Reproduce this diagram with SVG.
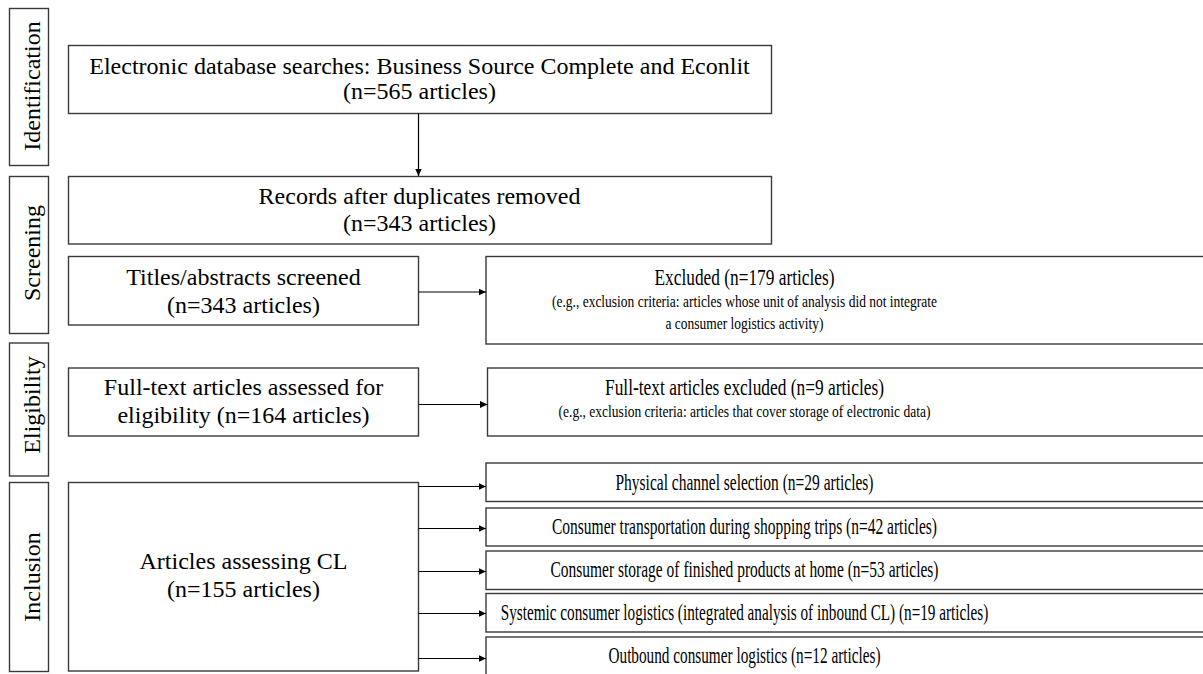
<svg xmlns="http://www.w3.org/2000/svg" width="1203" height="674" viewBox="0 0 1203 674">
  <style>
    .box { fill: #ffffff; stroke: #3a3a3a; stroke-width: 1.4; }
    .lbl { font-family: "Liberation Serif", "Times New Roman", serif; font-size: 24px; fill: #000; text-anchor: middle; }
    .mid { font-family: "Liberation Serif", "Times New Roman", serif; font-size: 23px; fill: #000; text-anchor: middle; }
    .sm { font-family: "Liberation Serif", "Times New Roman", serif; font-size: 17px; fill: #000; text-anchor: middle; }
    .conn { stroke: #000; stroke-width: 1.2; fill: none; marker-end: url(#arr); }
  </style>
  <defs>
    <marker id="arr" markerUnits="userSpaceOnUse" markerWidth="8" markerHeight="7" refX="7.5" refY="3.5" orient="auto">
      <path d="M0,0 L7.5,3.5 L0,7 z" fill="#000"/>
    </marker>
  </defs>
  <rect width="1203" height="674" fill="#ffffff"/>

  <!-- phase labels -->
  <g id="phase-identification">
    <rect class="box" x="9.5" y="8.5" width="39" height="157"/>
    <text class="lbl" transform="translate(40,86) rotate(-90)">Identification</text>
  </g>
  <g id="phase-screening">
    <rect class="box" x="9.5" y="176.5" width="39" height="157"/>
    <text class="lbl" transform="translate(40,253) rotate(-90)">Screening</text>
  </g>
  <g id="phase-eligibility">
    <rect class="box" x="9.5" y="343" width="39" height="133"/>
    <text class="lbl" transform="translate(40,405) rotate(-90)">Eligibility</text>
  </g>
  <g id="phase-inclusion">
    <rect class="box" x="9.5" y="482.5" width="39" height="189"/>
    <text class="lbl" transform="translate(40,577) rotate(-90)">Inclusion</text>
  </g>

  <!-- main nodes -->
  <g id="n-search">
    <rect class="box" x="68.5" y="45.5" width="703" height="68"/>
    <text class="lbl" x="419.5" y="74">Electronic database searches: Business Source Complete and Econlit</text>
    <text class="lbl" x="419.5" y="99">(n=565 articles)</text>
  </g>
  <g id="n-records">
    <rect class="box" x="68.5" y="176.5" width="703" height="67.5"/>
    <text class="lbl" x="419.5" y="204">Records after duplicates removed</text>
    <text class="lbl" x="419.5" y="231">(n=343 articles)</text>
  </g>
  <g id="n-titles">
    <rect class="box" x="68.5" y="256.5" width="350" height="68.5"/>
    <text class="lbl" x="243.5" y="285">Titles/abstracts screened</text>
    <text class="lbl" x="243.5" y="313">(n=343 articles)</text>
  </g>
  <g id="n-excluded">
    <rect class="box" x="486" y="256.5" width="730" height="87.5"/>
    <text class="mid" x="744.5" y="285" textLength="180" lengthAdjust="spacingAndGlyphs">Excluded (n=179 articles)</text>
    <text class="sm" x="744.5" y="307" textLength="385" lengthAdjust="spacingAndGlyphs">(e.g., exclusion criteria: articles whose unit of analysis did not integrate</text>
    <text class="sm" x="744.5" y="328.5" textLength="158" lengthAdjust="spacingAndGlyphs">a consumer logistics activity)</text>
  </g>
  <g id="n-fulltext">
    <rect class="box" x="68.5" y="368" width="350" height="68"/>
    <text class="lbl" x="243.5" y="395">Full-text articles assessed for</text>
    <text class="lbl" x="243.5" y="423">eligibility (n=164 articles)</text>
  </g>
  <g id="n-fulltext-excluded">
    <rect class="box" x="487.5" y="368" width="730" height="68"/>
    <text class="mid" x="744.5" y="395" textLength="279" lengthAdjust="spacingAndGlyphs">Full-text articles excluded (n=9 articles)</text>
    <text class="sm" x="744.5" y="417" textLength="372" lengthAdjust="spacingAndGlyphs">(e.g., exclusion criteria: articles that cover storage of electronic data)</text>
  </g>
  <g id="n-included">
    <rect class="box" x="68.5" y="482.5" width="350" height="188.5"/>
    <text class="lbl" x="243.5" y="569">Articles assessing CL</text>
    <text class="lbl" x="243.5" y="597">(n=155 articles)</text>
  </g>
  <g id="n-physical">
    <rect class="box" x="486" y="463" width="730" height="38.5"/>
    <text class="mid" x="744.5" y="489.5" textLength="258" lengthAdjust="spacingAndGlyphs">Physical channel selection (n=29 articles)</text>
  </g>
  <g id="n-transport">
    <rect class="box" x="486" y="508" width="730" height="38"/>
    <text class="mid" x="744.5" y="534" textLength="385" lengthAdjust="spacingAndGlyphs">Consumer transportation during shopping trips (n=42 articles)</text>
  </g>
  <g id="n-storage">
    <rect class="box" x="486" y="551" width="730" height="38.5"/>
    <text class="mid" x="744.5" y="577" textLength="388" lengthAdjust="spacingAndGlyphs">Consumer storage of finished products at home (n=53 articles)</text>
  </g>
  <g id="n-systemic">
    <rect class="box" x="486" y="593.5" width="730" height="38.5"/>
    <text class="mid" transform="translate(744.5,619.5) scale(0.662,1)">Systemic consumer logistics (integrated analysis of inbound CL) (n=19 articles)</text>
  </g>
  <g id="n-outbound">
    <rect class="box" x="486" y="637" width="730" height="50"/>
    <text class="mid" x="744.5" y="662.5" textLength="272" lengthAdjust="spacingAndGlyphs">Outbound consumer logistics (n=12 articles)</text>
  </g>

  <!-- connectors -->
  <g id="connectors">
    <line class="conn" x1="418.5" y1="113.5" x2="418.5" y2="176"/>
    <line class="conn" x1="418.5" y1="292" x2="486" y2="292"/>
    <line class="conn" x1="418.5" y1="404.5" x2="487.5" y2="404.5"/>
    <line class="conn" x1="418.5" y1="486.5" x2="486" y2="486.5"/>
    <line class="conn" x1="418.5" y1="528.5" x2="486" y2="528.5"/>
    <line class="conn" x1="418.5" y1="571.5" x2="486" y2="571.5"/>
    <line class="conn" x1="418.5" y1="613.5" x2="486" y2="613.5"/>
    <line class="conn" x1="418.5" y1="658.5" x2="486" y2="658.5"/>
  </g>
</svg>
